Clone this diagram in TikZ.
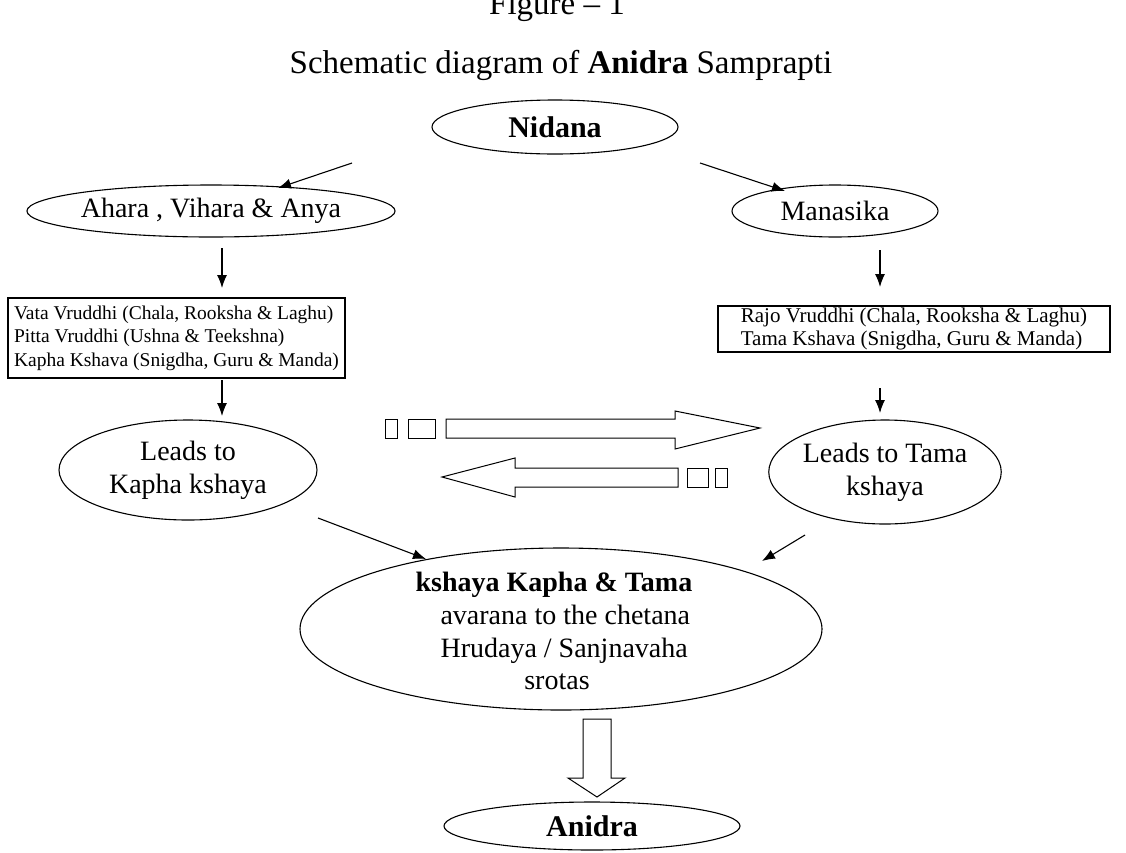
\documentclass[tikz,border=0pt]{standalone}
\usepackage{fontspec}
\setmainfont{Liberation Serif}
\usetikzlibrary{shapes.geometric,arrows.meta}
\begin{document}
\begin{tikzpicture}[x=1pt,y=-1pt,line width=1.1pt,
  ell/.style={draw,ellipse,inner sep=0pt},
  arr/.style={-{Latex[length=13pt,width=10pt]}},
  blk/.style={draw,line width=1pt,line join=miter},
  body/.style={font=\fontsize{28}{33}\selectfont},
  bbody/.style={font=\fontsize{30}{33}\selectfont\bfseries},
  small/.style={font=\fontsize{19.5}{23.5}\selectfont},
  smallr/.style={font=\fontsize{21}{23.5}\selectfont},
  txt/.style={inner sep=0pt,anchor=base}]
\useasboundingbox (0,0) rectangle (1126,852);

% titles
\node[txt,font=\fontsize{33}{36}\selectfont] (fig) at (557,14) {Figure -- 1};
\node[txt,font=\fontsize{33}{36}\selectfont] (title) at (561,73) {Schematic diagram of \textbf{Anidra} Samprapti};

% ellipses
\node[ell,bbody,minimum width=246pt,minimum height=54pt] (nidana) at (555,127) {Nidana};
\node[ell,body,minimum width=318pt,minimum height=52pt] (ahara) at (211,211) {Ahara , Vihara \& Anya};
\node[ell,body,minimum width=206pt,minimum height=52pt] (manas) at (835,211) {Manasika};

% rectangles
\node[draw,small,align=left,minimum width=337pt,minimum height=80pt,inner sep=0pt] (lrect) at (176.5,338)
  {Vata Vruddhi (Chala, Rooksha \& Laghu)\\Pitta Vruddhi (Ushna \& Teekshna)\\Kapha Kshava (Snigdha, Guru \& Manda)};
\node[draw,smallr,align=left,minimum width=392pt,minimum height=46pt,inner sep=0pt] (rrect) at (914,329)
  {Rajo Vruddhi (Chala, Rooksha \& Laghu)\\Tama Kshava (Snigdha, Guru \& Manda)};

\node[ell,body,align=center,minimum width=258pt,minimum height=100pt] (kapha) at (188,470) {Leads to\\Kapha kshaya};
\node[ell,body,align=center,minimum width=222pt,minimum height=104pt] (tama) at (885,472) {Leads to Tama\\kshaya};

% big ellipse
\node[ell,minimum width=522pt,minimum height=162pt] (big) at (561,629) {};
\node[txt,anchor=base west,font=\fontsize{28}{33}\selectfont\bfseries] (bl1) at (415,591) {kshaya Kapha \& Tama};
\node[txt,anchor=base west,body] (bl2) at (440,624) {avarana to the chetana};
\node[txt,anchor=base west,body] (bl3) at (440,657) {Hrudaya / Sanjnavaha};
\node[txt,body] (bl4) at (557,689) {srotas};

\node[ell,bbody,minimum width=296pt,minimum height=48pt] (anidra) at (592,826) {Anidra};

% connector end points
\coordinate (a1s) at (352,163); \coordinate (a1e) at (278,188);
\coordinate (a2s) at (700,163); \coordinate (a2e) at (785,191);
\coordinate (a3s) at (222,248); \coordinate (a3e) at (222,288);
\coordinate (a4s) at (880,250); \coordinate (a4e) at (880,287);
\coordinate (a5s) at (222,380); \coordinate (a5e) at (222,416);
\coordinate (a6s) at (880,388); \coordinate (a6e) at (880,413);
\coordinate (a7s) at (318,518); \coordinate (a7e) at (426,559);
\coordinate (a8s) at (805,535); \coordinate (a8e) at (762,561);

\draw[arr] (a1s) -- (a1e);
\draw[arr] (a2s) -- (a2e);
\draw[arr] (a3s) -- (a3e);
\draw[arr] (a4s) -- (a4e);
\draw[arr] (a5s) -- (a5e);
\draw[arr] (a6s) -- (a6e);
\draw[arr] (a7s) -- (a7e);
\draw[arr] (a8s) -- (a8e);

% block arrows between Kapha and Tama
\draw[blk] (385,419) rectangle (397,438);
\draw[blk] (408,419) rectangle (435,438);
\draw[blk] (446,419) -- (675,419) -- (675,411) -- (760,428) -- (675,449) -- (675,438) -- (446,438) -- cycle;
\draw[blk] (678,468) -- (515,468) -- (515,458) -- (442,477) -- (515,497) -- (515,487) -- (678,487) -- cycle;
\draw[blk] (687,468) rectangle (708,487);
\draw[blk] (715,468) rectangle (727,487);

% big down arrow
\draw[blk] (583,719) -- (611,719) -- (611,778) -- (625,778) -- (597,797) -- (568,778) -- (583,778) -- cycle;
\end{tikzpicture}
\end{document}
